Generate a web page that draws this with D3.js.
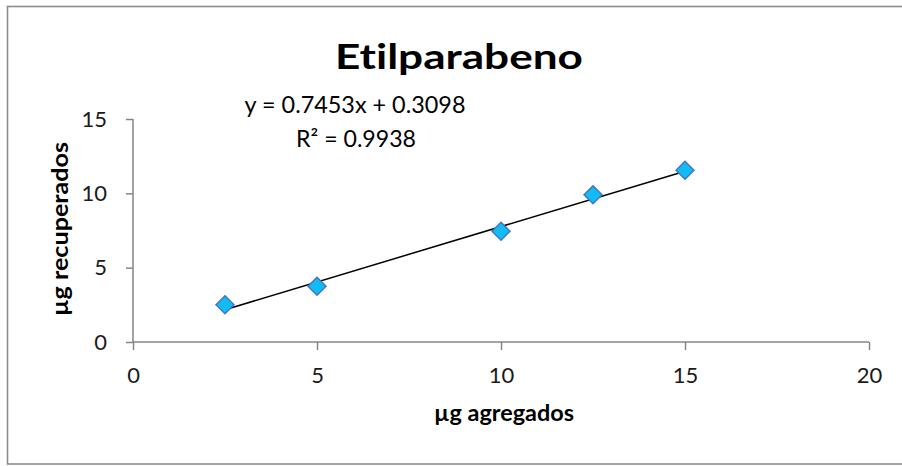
<!DOCTYPE html>
<html><head><meta charset="utf-8">
<script src="https://cdn.jsdelivr.net/npm/d3@7"></script>
<style>body{margin:0;background:#fff}svg{display:block}text{font-variant-ligatures:none;font-feature-settings:"liga" 0}</style>
</head><body><svg id="c" width="902" height="466"></svg>
<script>
const title = "Etilparabeno";
const xLabel = "µg agregados";
const yLabel = "µg recuperados";
const xAdded = [2.5, 5, 10, 12.5, 15];
const yRecovered = [2.5, 3.75, 7.45, 9.9, 11.55];
const xTicks = [0, 5, 10, 15, 20];
const yTicks = [0, 5, 10, 15];
const slope = 0.7453, intercept = 0.3098;
const eqText = "y = 0.7453x + 0.3098";
const r2Text = "R² = 0.9938";

const font = "Lato, 'Open Sans', sans-serif";
const svg = d3.select("#c");
svg.append("rect").attr("x",7.5).attr("y",6.5).attr("width",905).attr("height",457.5)
  .attr("fill","#fff").attr("stroke","#8c8c8c").attr("stroke-width",1.6);

const x = d3.scaleLinear().domain([0,20]).range([133,869]);
const y = d3.scaleLinear().domain([0,15]).range([342,119]);

const gx = svg.append("g").attr("transform","translate(0,342)")
  .call(d3.axisBottom(x).tickValues(xTicks).tickSize(8).tickPadding(12));
const gy = svg.append("g").attr("transform","translate(133,0)")
  .call(d3.axisLeft(y).tickValues(yTicks).tickSize(7).tickPadding(26));
[gx,gy].forEach(g=>{
  g.selectAll("path,line").attr("stroke","#868686").attr("stroke-width",1.5);
  g.select(".domain").attr("d", g===gx ? "M133,0H869" : "M0,342V119");
  g.selectAll("text").attr("font-family",font).attr("font-size",22).attr("fill","#1a1a1a");
});
gx.selectAll("text").attr("dy","0.71em").attr("y",25);
gy.selectAll("text").attr("x",-26);

// trendline
const tl = [xAdded[0], xAdded[xAdded.length-1]];
svg.append("line")
  .attr("x1",x(tl[0])).attr("y1",y(slope*tl[0]+intercept))
  .attr("x2",x(tl[1])).attr("y2",y(slope*tl[1]+intercept))
  .attr("stroke","#000").attr("stroke-width",1.5);

// markers
const sym = d3.symbol().type(d3.symbolDiamond2).size(205);
svg.selectAll("path.pt").data(xAdded.map((v,i)=>[v,yRecovered[i]])).enter()
  .append("path").attr("class","pt")
  .attr("transform",d=>`translate(${x(d[0])},${y(d[1])})`)
  .attr("d",sym).attr("fill","#13bbf4").attr("stroke","#4278c0").attr("stroke-width",1.5);

function label(txt, cx, cy, size, bold, targetW, rot){
  const g = svg.append("g");
  const t = g.append("text").attr("text-anchor","middle")
    .attr("font-family",font).attr("font-weight",bold?"bold":"normal")
    .attr("font-size",size).attr("fill","#000").text(txt);
  const w = t.node().getComputedTextLength();
  const sx = targetW / w;
  g.attr("transform",`translate(${cx},${cy}) rotate(${rot||0}) scale(${sx},1)`);
}
label(title, 459, 69, 35, true, 248);
label(eqText, 355, 113, 23, false, 221);
label(r2Text, 356, 147, 23, false, 120);
label(xLabel, 504, 421, 22, true, 140);
label(yLabel, 68, 229, 22, true, 174, -90);
</script></body></html>
